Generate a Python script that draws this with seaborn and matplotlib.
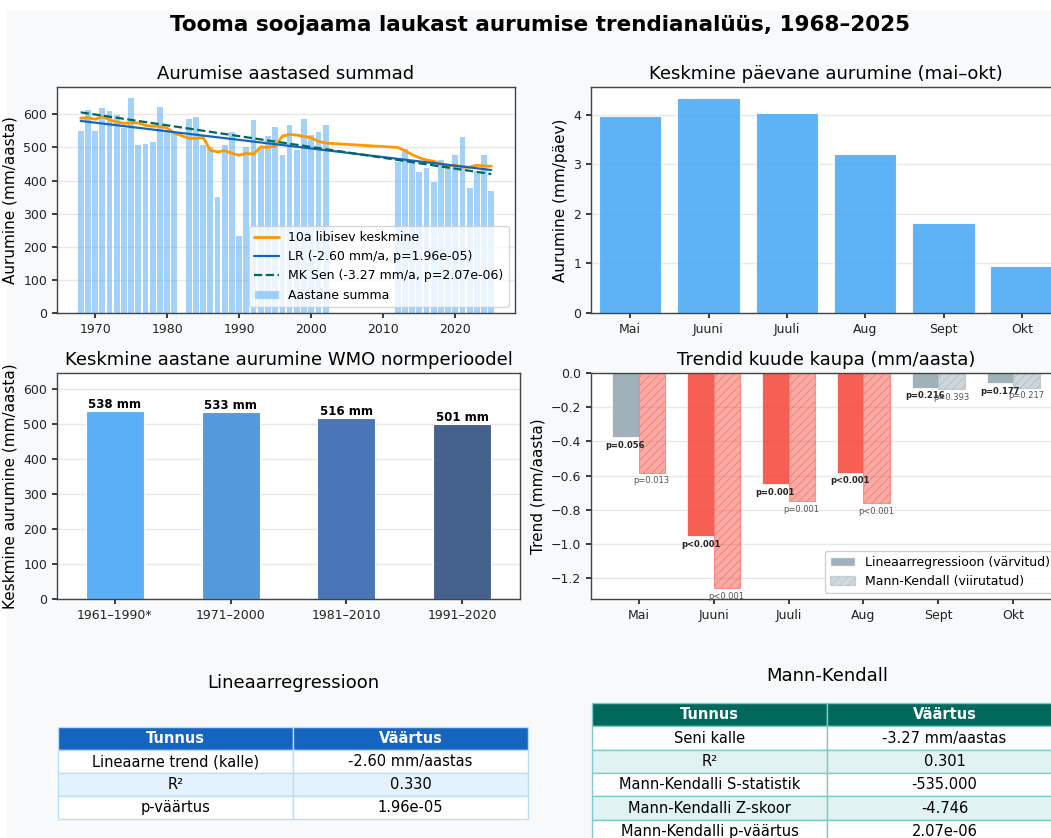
# Tooma soojaama aurumise trendianalüüs 1968-2025
import numpy as np
import pandas as pd
import seaborn as sns
import matplotlib.pyplot as plt
from matplotlib.patches import Patch, Rectangle
from matplotlib.lines import Line2D

# ------------------------------------------------------------
# Andmed (loetud joonisest)
# ------------------------------------------------------------
years = list(range(1968, 1982)) + list(range(1983, 2003)) + list(range(2012, 2026))
annual_sum = [551, 612, 551, 618, 610, 597, 558, 650, 508, 510, 516, 623, 550, 543,
              585, 592, 506, 501, 350, 506, 547, 234, 502, 582, 500, 536, 563, 478,
              569, 491, 585, 539, 547, 567,
              455, 496, 457, 426, 437, 395, 462, 448, 478, 530, 378, 430, 478, 367]

lr_slope, lr_start = -2.60, 580      # mm/a, väärtus 1968
sen_slope, sen_start = -3.27, 606

months = ["Mai", "Juuni", "Juuli", "Aug", "Sept", "Okt"]
daily_mean = [3.97, 4.34, 4.04, 3.21, 1.82, 0.95]

periods = ["1961–1990*", "1971–2000", "1981–2010", "1991–2020"]
period_mean = [538, 533, 516, 501]
period_colors = ["#5aaff5", "#5499db", "#4a76b8", "#45618e"]

lr_trend = [-0.377, -0.954, -0.652, -0.585, -0.086, -0.059]
mk_trend = [-0.583, -1.259, -0.751, -0.761, -0.096, -0.086]
lr_p_labels = ["p=0.056", "p<0.001", "p=0.001", "p<0.001", "p=0.216", "p=0.177"]
mk_p_labels = ["p=0.013", "p<0.001", "p=0.001", "p<0.001", "p=0.393", "p=0.217"]
lr_signif = [False, True, True, True, False, False]
mk_signif = [True, True, True, True, False, False]

lr_rows = [["Lineaarne trend (kalle)", "-2.60 mm/aastas"],
           ["R²", "0.330"],
           ["p-väärtus", "1.96e-05"]]
mk_rows = [["Seni kalle", "-3.27 mm/aastas"],
           ["R²", "0.301"],
           ["Mann-Kendalli S-statistik", "-535.000"],
           ["Mann-Kendalli Z-skoor", "-4.746"],
           ["Mann-Kendalli p-väärtus", "2.07e-06"]]

# ------------------------------------------------------------
# Stiil
# ------------------------------------------------------------
sns.set_theme(style="whitegrid")
plt.rcParams.update({
    "font.family": ["DejaVu Sans"],
    "figure.facecolor": "#f8f9fa",
    "axes.facecolor": "white",
    "axes.edgecolor": "#444444",
    "axes.linewidth": 1.0,
    "grid.color": "#e8e8e8",
    "text.color": "black",
    "axes.labelcolor": "black",
    "xtick.bottom": True,
    "ytick.left": True,
    "xtick.major.size": 3.5,
    "ytick.major.size": 3.5,
    "xtick.color": "#222222",
    "ytick.color": "#222222",
    "xtick.labelsize": 9,
    "ytick.labelsize": 9,
    "axes.labelsize": 11,
    "axes.titlesize": 13,
    "hatch.linewidth": 0.6,
})

W, H = 1051, 838
fig = plt.figure(figsize=(W / 100, H / 100), dpi=100)


def rect(left, top, right, bottom):
    return [left / W, 1 - bottom / H, (right - left) / W, (bottom - top) / H]


# valge äär üleval ja vasakul
fig.patches.append(Rectangle((0, 1 - 10 / H), 1, 10 / H, transform=fig.transFigure,
                             color="white", zorder=-1))
fig.patches.append(Rectangle((0, 0), 6 / W, 1, transform=fig.transFigure,
                             color="white", zorder=-1))

fig.text(0.514, 1 - 25 / H, "Tooma soojaama laukast aurumise trendianalüüs, 1968–2025",
         ha="center", va="center", fontsize=15.5, fontweight="bold")

# ------------------------------------------------------------
# 1. Aastased summad
# ------------------------------------------------------------
ax1 = fig.add_axes(rect(57, 87, 515, 313))
sns.barplot(x=years, y=annual_sum, native_scale=True, width=0.8, color="#64b5f6",
            alpha=0.6, saturation=1, linewidth=0, errorbar=None, ax=ax1)
yrs = np.array(years)
rolling = pd.Series(annual_sum).rolling(10, center=True, min_periods=1).mean()
ax1.plot(yrs, rolling, color="#ff9800", lw=2)
ax1.plot(yrs, lr_start + lr_slope * (yrs - 1968), color="#1565c0", lw=1.6)
ax1.plot(yrs, sen_start + sen_slope * (yrs - 1968), color="#00695c", lw=1.6, ls="--")
ax1.set_title("Aurumise aastased summad")
ax1.set_ylabel("Aurumine (mm/aasta)")
ax1.set_xlabel("")
ax1.xaxis.grid(False)
handles = [Line2D([], [], color="#ff9800", lw=2),
           Line2D([], [], color="#1565c0", lw=1.6),
           Line2D([], [], color="#00695c", lw=1.6, ls="--"),
           Patch(facecolor="#64b5f6", alpha=0.6)]
labels = ["10a libisev keskmine",
          f"LR ({lr_slope:.2f} mm/a, p=1.96e-05)",
          f"MK Sen ({sen_slope:.2f} mm/a, p=2.07e-06)",
          "Aastane summa"]
ax1.legend(handles, labels, loc="lower right", fontsize=9, framealpha=0.8)

# ------------------------------------------------------------
# 2. Keskmine päevane aurumine
# ------------------------------------------------------------
ax2 = fig.add_axes(rect(591, 87, 1061, 313))
sns.barplot(x=months, y=daily_mean, color="#42a5f5", alpha=0.85, saturation=1,
            edgecolor="white", linewidth=0.8, errorbar=None, ax=ax2)
ax2.set_title("Keskmine päevane aurumine (mai–okt)")
ax2.set_ylabel("Aurumine (mm/päev)")
ax2.set_xlabel("")
ax2.xaxis.grid(False)

# ------------------------------------------------------------
# 3. WMO normperioodid
# ------------------------------------------------------------
ax3 = fig.add_axes(rect(57, 373, 520, 599))
sns.barplot(x=periods, y=period_mean, hue=periods, palette=period_colors, width=0.5,
            saturation=1, edgecolor="white", linewidth=0.8, errorbar=None,
            legend=False, ax=ax3)
for i, v in enumerate(period_mean):
    ax3.text(i, v, f"{v} mm", ha="center", va="bottom", fontsize=8.5, fontweight="bold")
ax3.set_ylim(0, max(period_mean) * 1.2)
ax3.set_title("Keskmine aastane aurumine WMO normperioodel")
ax3.set_ylabel("Keskmine aurumine (mm/aasta)")
ax3.set_xlabel("")
ax3.xaxis.grid(False)

# ------------------------------------------------------------
# 4. Trendid kuude kaupa
# ------------------------------------------------------------
ax4 = fig.add_axes(rect(591, 373, 1061, 599))
x = np.arange(len(months))
bw = 0.35
red, gray = "#f44336", "#90a4ae"
lr_cols = [red if s else gray for s in lr_signif]
mk_cols = [red if s else gray for s in mk_signif]
ax4.bar(x - bw / 2, lr_trend, bw, color=lr_cols, alpha=0.85, edgecolor="white", linewidth=0.6)
for xi, v, c in zip(x, mk_trend, mk_cols):
    ax4.bar(xi + bw / 2, v, bw, facecolor=c, alpha=0.45, edgecolor=c, hatch="////",
            linewidth=0.8)
for xi, v, lab in zip(x, lr_trend, lr_p_labels):
    ax4.text(xi - bw / 2, v - 0.02, lab, ha="center", va="top", fontsize=6,
             fontweight="bold", color="#222222")
for xi, v, lab in zip(x, mk_trend, mk_p_labels):
    ax4.text(xi + bw / 2, v - 0.02, lab, ha="center", va="top", fontsize=6,
             color="#555555")
ax4.set_xticks(x, months)
ax4.set_title("Trendid kuude kaupa (mm/aasta)")
ax4.set_ylabel("Trend (mm/aasta)")
ax4.xaxis.grid(False)
leg_handles = [Patch(facecolor=gray, alpha=0.85),
               Patch(facecolor=gray, alpha=0.4, hatch="////", edgecolor=gray)]
ax4.legend(leg_handles, ["Lineaarregressioon (värvitud)", "Mann-Kendall (viirutatud)"],
           loc="lower right", fontsize=9, framealpha=0.9)

# ------------------------------------------------------------
# 5. Tabelid
# ------------------------------------------------------------
def draw_table(r, rows, head_col, stripe_col, edge_col):
    tax = fig.add_axes(r)
    tax.axis("off")
    tbl = tax.table(cellText=rows, colLabels=["Tunnus", "Väärtus"], cellLoc="center",
                    bbox=[0, 0, 1, 1])
    tbl.auto_set_font_size(False)
    tbl.set_fontsize(10.5)
    for (row, col), cell in tbl.get_celld().items():
        cell.set_edgecolor(edge_col)
        if row == 0:
            cell.set_facecolor(head_col)
            cell.set_text_props(color="white", fontweight="bold")
        elif row % 2 == 0:
            cell.set_facecolor(stripe_col)
        else:
            cell.set_facecolor("white")
    return tax


draw_table(rect(58, 727, 528, 819), lr_rows, "#1565c0", "#e3f2fd", "#bbdefb")
draw_table(rect(592, 703, 1062, 843), mk_rows, "#00695c", "#e0f2f1", "#80cbc4")
fig.text(293 / W, 1 - 683 / H, "Lineaarregressioon", ha="center", va="center", fontsize=13)
fig.text(827 / W, 1 - 676 / H, "Mann-Kendall", ha="center", va="center", fontsize=13)

fig.savefig("out.png", dpi=100, facecolor=fig.get_facecolor())
